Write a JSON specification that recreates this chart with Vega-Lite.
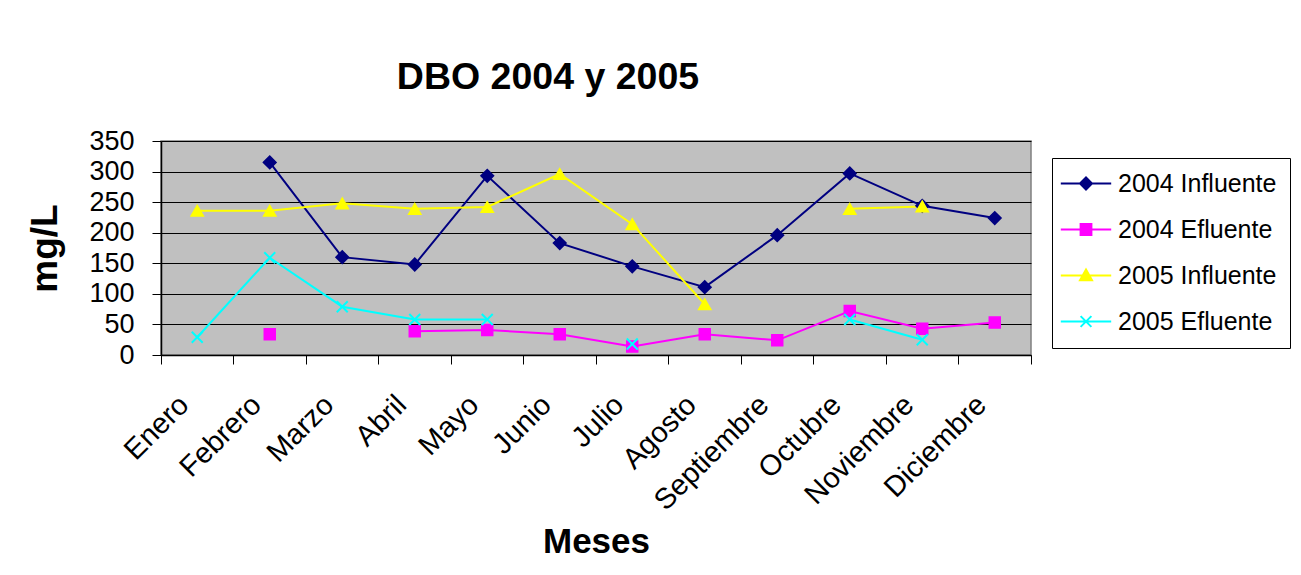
{
  "$schema": "https://vega.github.io/schema/vega-lite/v6.json",
  "width": 870,
  "height": 214,
  "autosize": {"type": "none"},
  "padding": {"left": 161, "top": 141, "right": 270, "bottom": 220},
  "background": "white",
  "config": {
    "view": {"fill": "#C0C0C0", "stroke": "#808080", "strokeWidth": 1.5},
    "font": "Liberation Sans"
  },
  "title": {
    "text": "DBO 2004 y 2005",
    "font": "Liberation Sans",
    "fontSize": 37.5,
    "fontWeight": "bold",
    "color": "black",
    "anchor": "middle",
    "frame": "group",
    "baseline": "alphabetic",
    "dx": -48,
    "offset": 1
  },
  "data": {
    "values": [
      {"mes": "Enero", "serie": "2004 Influente", "valor": null},
      {"mes": "Febrero", "serie": "2004 Influente", "valor": 315},
      {"mes": "Marzo", "serie": "2004 Influente", "valor": 160},
      {"mes": "Abril", "serie": "2004 Influente", "valor": 148},
      {"mes": "Mayo", "serie": "2004 Influente", "valor": 293},
      {"mes": "Junio", "serie": "2004 Influente", "valor": 183},
      {"mes": "Julio", "serie": "2004 Influente", "valor": 145},
      {"mes": "Agosto", "serie": "2004 Influente", "valor": 111},
      {"mes": "Septiembre", "serie": "2004 Influente", "valor": 196},
      {"mes": "Octubre", "serie": "2004 Influente", "valor": 297},
      {"mes": "Noviembre", "serie": "2004 Influente", "valor": 244},
      {"mes": "Diciembre", "serie": "2004 Influente", "valor": 224},
      {"mes": "Enero", "serie": "2004 Efluente", "valor": null},
      {"mes": "Febrero", "serie": "2004 Efluente", "valor": 34},
      {"mes": "Marzo", "serie": "2004 Efluente", "valor": null},
      {"mes": "Abril", "serie": "2004 Efluente", "valor": 39},
      {"mes": "Mayo", "serie": "2004 Efluente", "valor": 41},
      {"mes": "Junio", "serie": "2004 Efluente", "valor": 34},
      {"mes": "Julio", "serie": "2004 Efluente", "valor": 14},
      {"mes": "Agosto", "serie": "2004 Efluente", "valor": 34},
      {"mes": "Septiembre", "serie": "2004 Efluente", "valor": 24},
      {"mes": "Octubre", "serie": "2004 Efluente", "valor": 72},
      {"mes": "Noviembre", "serie": "2004 Efluente", "valor": 43},
      {"mes": "Diciembre", "serie": "2004 Efluente", "valor": 53},
      {"mes": "Enero", "serie": "2005 Influente", "valor": 236},
      {"mes": "Febrero", "serie": "2005 Influente", "valor": 236},
      {"mes": "Marzo", "serie": "2005 Influente", "valor": 248},
      {"mes": "Abril", "serie": "2005 Influente", "valor": 239},
      {"mes": "Mayo", "serie": "2005 Influente", "valor": 242},
      {"mes": "Junio", "serie": "2005 Influente", "valor": 296},
      {"mes": "Julio", "serie": "2005 Influente", "valor": 214},
      {"mes": "Agosto", "serie": "2005 Influente", "valor": 83},
      {"mes": "Septiembre", "serie": "2005 Influente", "valor": null},
      {"mes": "Octubre", "serie": "2005 Influente", "valor": 239},
      {"mes": "Noviembre", "serie": "2005 Influente", "valor": 243},
      {"mes": "Diciembre", "serie": "2005 Influente", "valor": null},
      {"mes": "Enero", "serie": "2005 Efluente", "valor": 29},
      {"mes": "Febrero", "serie": "2005 Efluente", "valor": 159},
      {"mes": "Marzo", "serie": "2005 Efluente", "valor": 79},
      {"mes": "Abril", "serie": "2005 Efluente", "valor": 58},
      {"mes": "Mayo", "serie": "2005 Efluente", "valor": 58},
      {"mes": "Junio", "serie": "2005 Efluente", "valor": null},
      {"mes": "Julio", "serie": "2005 Efluente", "valor": 18},
      {"mes": "Agosto", "serie": "2005 Efluente", "valor": null},
      {"mes": "Septiembre", "serie": "2005 Efluente", "valor": null},
      {"mes": "Octubre", "serie": "2005 Efluente", "valor": 58},
      {"mes": "Noviembre", "serie": "2005 Efluente", "valor": 25},
      {"mes": "Diciembre", "serie": "2005 Efluente", "valor": null}
    ]
  },
  "encoding": {
    "x": {
      "field": "mes",
      "type": "nominal",
      "scale": {
        "type": "band",
        "domain": ["Enero", "Febrero", "Marzo", "Abril", "Mayo", "Junio", "Julio", "Agosto", "Septiembre", "Octubre", "Noviembre", "Diciembre"],
        "paddingInner": 0,
        "paddingOuter": 0
      },
      "axis": {
        "title": "Meses",
        "titleFont": "Liberation Sans",
        "titleFontSize": 35,
        "titleFontWeight": "bold",
        "titleColor": "black",
        "titlePadding": 9,
        "labelAngle": -45,
        "labelAlign": "right",
        "labelBaseline": "top",
        "labelFont": "Liberation Sans",
        "labelFontSize": 29,
        "labelColor": "black",
        "labelPadding": 26,
        "labelOffset": -23,
        "labelOverlap": false,
        "labelBound": false,
        "labelLimit": 400,
        "bandPosition": 1,
        "tickExtra": true,
        "tickSize": 9,
        "tickColor": "black",
        "domainColor": "black",
        "domainWidth": 1.5,
        "grid": false
      }
    },
    "y": {
      "field": "valor",
      "type": "quantitative",
      "scale": {"domain": [0, 350], "nice": false, "zero": true},
      "axis": {
        "title": "mg/L",
        "titleFont": "Liberation Sans",
        "titleFontSize": 37,
        "titleFontWeight": "bold",
        "titleColor": "black",
        "titlePadding": 24,
        "values": [0, 50, 100, 150, 200, 250, 300, 350],
        "labelFont": "Liberation Sans",
        "labelFontSize": 27,
        "labelColor": "black",
        "labelPadding": 18,
        "tickSize": 9,
        "tickColor": "black",
        "domainColor": "black",
        "domainWidth": 1.5,
        "grid": true,
        "gridColor": "black",
        "gridWidth": 1
      }
    },
    "color": {
      "field": "serie",
      "type": "nominal",
      "scale": {
        "domain": ["2004 Influente", "2004 Efluente", "2005 Influente", "2005 Efluente"],
        "range": ["#000080", "#FF00FF", "#FFFF00", "#00FFFF"]
      },
      "legend": {
        "title": null,
        "orient": "none",
        "legendX": 891,
        "legendY": 17,
        "direction": "vertical",
        "padding": 13,
        "strokeColor": "black",
        "fillColor": "white",
        "labelFont": "Liberation Sans",
        "labelFontSize": 25,
        "labelColor": "black",
        "labelLimit": 400,
        "symbolSize": 144,
        "symbolStrokeWidth": 2,
        "symbolOffset": 8.5,
        "labelOffset": 19.5,
        "rowPadding": 20
      }
    },
    "fill": {
      "field": "serie",
      "type": "nominal",
      "scale": {
        "domain": ["2004 Influente", "2004 Efluente", "2005 Influente", "2005 Efluente"],
        "range": ["#000080", "#FF00FF", "#FFFF00", "transparent"]
      },
      "legend": null
    }
  },
  "layer": [
    {
      "transform": [{"filter": "datum.valor > 1000"}],
      "mark": {"type": "point", "filled": false, "size": 144, "strokeWidth": 2, "opacity": 1},
      "encoding": {
        "shape": {
          "field": "serie",
          "type": "nominal",
          "scale": {
            "domain": ["2004 Influente", "2004 Efluente", "2005 Influente", "2005 Efluente"],
            "range": [
              "M-4.2,0L4.2,0M-1,0L0,-1L1,0L0,1Z",
              "M-4.2,0L4.2,0M-0.9,-0.9L0.9,-0.9L0.9,0.9L-0.9,0.9Z",
              "M-4.2,0L4.2,0M0,-1L1,0.8L-1,0.8Z",
              "M-4.2,0L4.2,0M-0.9,-0.9L0.9,0.9M-0.9,0.9L0.9,-0.9"
            ]
          },
          "legend": null
        }
      }
    },
    {
      "mark": {"type": "line", "strokeWidth": 2, "invalid": "break-paths-filter-domains"},
      "encoding": {"fill": {"value": null}}
    },
    {
      "transform": [{"filter": {"field": "serie", "equal": "2004 Influente"}}],
      "mark": {"type": "point", "shape": "diamond", "filled": false, "size": 160, "strokeWidth": 1.5, "opacity": 1, "invalid": "filter"}
    },
    {
      "transform": [{"filter": {"field": "serie", "equal": "2004 Efluente"}}],
      "mark": {"type": "point", "shape": "square", "filled": false, "size": 120, "strokeWidth": 1.5, "opacity": 1, "invalid": "filter"}
    },
    {
      "transform": [{"filter": {"field": "serie", "equal": "2005 Influente"}}],
      "mark": {"type": "point", "shape": "triangle-up", "filled": false, "size": 150, "strokeWidth": 1.5, "opacity": 1, "invalid": "filter"}
    },
    {
      "transform": [{"filter": {"field": "serie", "equal": "2005 Efluente"}}],
      "mark": {"type": "point", "shape": "M-1,-1L1,1M-1,1L1,-1", "filled": false, "size": 120, "strokeWidth": 2, "opacity": 1, "invalid": "filter"}
    }
  ]
}
